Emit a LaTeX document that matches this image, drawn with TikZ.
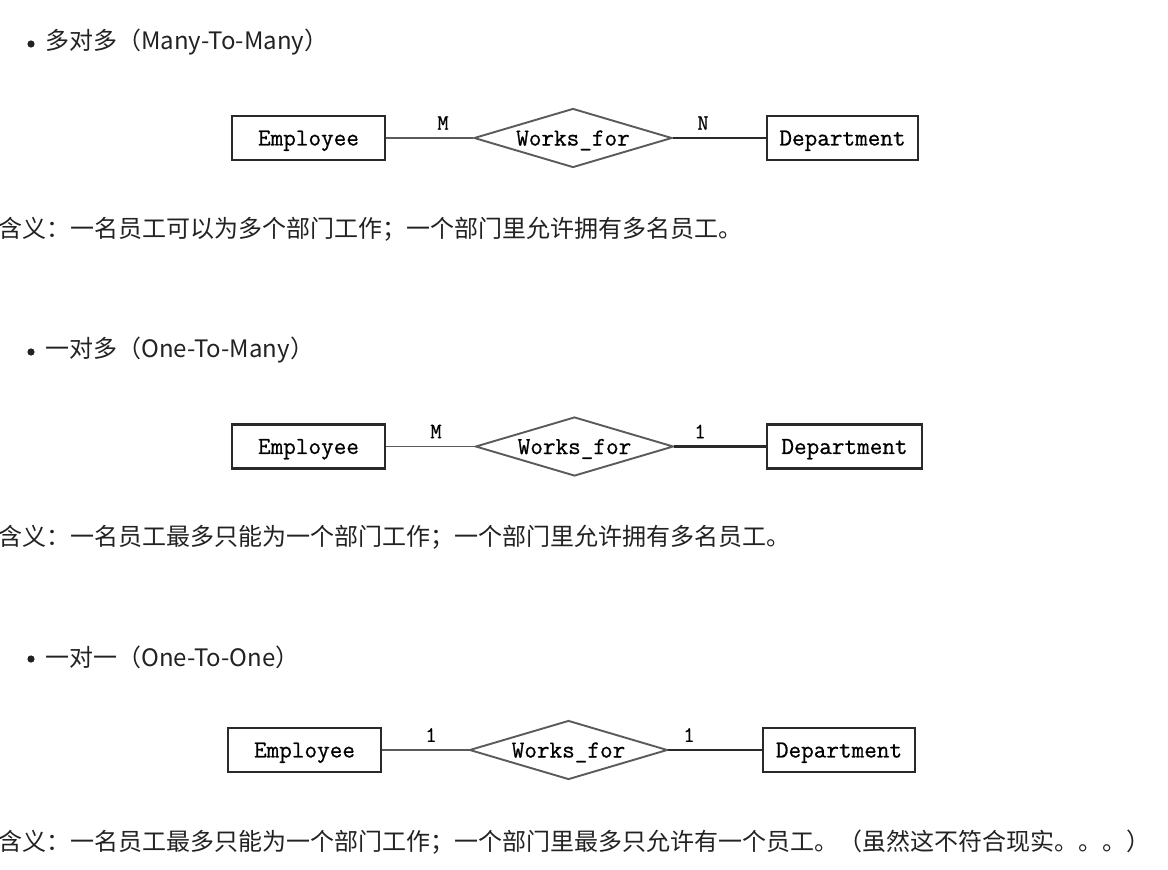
\documentclass[tikz,border=0pt]{standalone}
\usepackage{fontspec}
\usepackage{xcolor}
\usepackage{tikz}
\usetikzlibrary{shapes.geometric}
\newfontfamily\cjk{Noto Sans CJK SC}
\newfontfamily\ertt{Latin Modern Mono}[FakeBold=0.7]
\definecolor{txt}{HTML}{222222}
\definecolor{boxline}{HTML}{2A2A2A}
\definecolor{relline}{HTML}{5A5A5A}

\begin{document}
\begin{tikzpicture}[x=1pt, y=-1pt,
    entity/.style={draw=boxline, line width=2.8pt, minimum height=44pt, inner sep=0pt,
      text depth=0pt, font=\ertt\fontsize{24.5}{24.5}\selectfont},
    relation/.style={diamond, draw=relline, line width=1.9pt, aspect=3.36, inner sep=0pt,
      text depth=0pt, minimum width=198pt, minimum height=59pt, font=\ertt\fontsize{24.5}{24.5}\selectfont},
    card/.style={font=\ertt\fontsize{22}{22}\selectfont, inner sep=0pt},
    txtline/.style={anchor=west, inner sep=0pt, text=txt, font=\cjk\fontsize{24}{24}\selectfont}]
    \useasboundingbox (0,0) rectangle (1168,870);
    % the three relationship diagrams
    \foreach \i/\Y/\EX/\RX/\DX/\DW/\LA/\LB/\XA/\XB in {
        1/138/308.5/573/842.5/151/M/N/443/703,
        2/446.5/308.5/574.5/844.5/155/M/1/436/700,
        3/750/304.5/568.5/839/152/1/1/431/689} {
      \node[entity, minimum width=153pt] (E\i) at (\EX,\Y) {Employee};
      \node[relation] (R\i) at (\RX,\Y) {Works\_for};
      \node[entity, minimum width=\DW pt] (D\i) at (\DX,\Y) {Department};
      \draw[relline, line width=1.7pt] (E\i) -- (R\i);
      \draw[boxline, line width=2.6pt] (R\i) -- (D\i);
      \node[card] (ca\i) at (\XA,\Y-15) {\LA};
      \node[card] (cb\i) at (\XB,\Y-15) {\LB};
    }
    % bullets and headings
    \foreach \i/\Y in {1/44, 2/352, 3/659} {
      \fill[txt] (31,\Y) circle (3.6);
    }
    \node[txtline] (h1) at (45,42) {多对多（Many-To-Many）};
    \node[txtline] (h2) at (45,350) {一对多（One-To-Many）};
    \node[txtline] (h3) at (45,657) {一对一（One-To-One）};
    % meanings
    \node[txtline] (t1) at (-2,229) {含义：一名员工可以为多个部门工作；一个部门里允许拥有多名员工。};
    \node[txtline] (t2) at (-2,537) {含义：一名员工最多只能为一个部门工作；一个部门里允许拥有多名员工。};
    \node[txtline] (t3) at (-2,842) {含义：一名员工最多只能为一个部门工作；一个部门里最多只允许有一个员工。（虽然这不符合现实。。。）};
\end{tikzpicture}
\end{document}
